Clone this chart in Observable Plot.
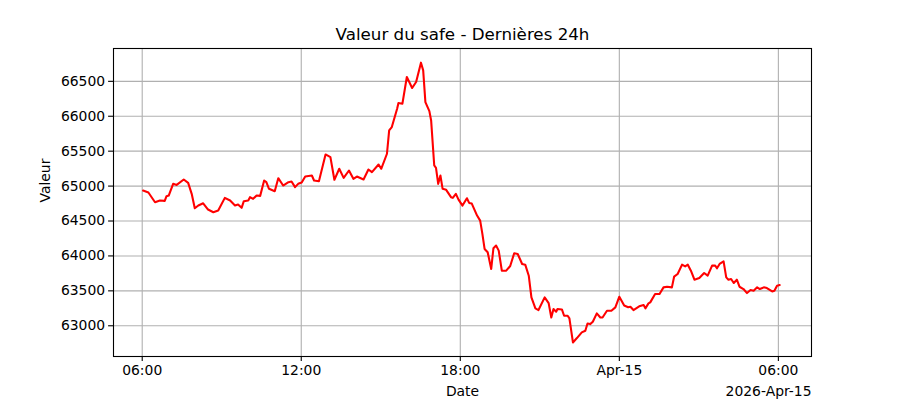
<!DOCTYPE html>
<html>
<head>
<meta charset="utf-8">
<script src="https://cdn.jsdelivr.net/npm/d3@7"></script>
<script src="https://cdn.jsdelivr.net/npm/@observablehq/plot@0.6"></script>
<style>
  html, body { margin: 0; padding: 0; background: white; }
  #chart { width: 900px; height: 400px; }
</style>
</head>
<body>
<div id="chart"></div>
<script>
const titleText = "Valeur du safe - Dernières 24h";
const xLabel = "Date";
const yLabel = "Valeur";
const offsetText = "2026-Apr-15";

const times = [
  "2026-04-14T06:02","2026-04-14T06:14","2026-04-14T06:29","2026-04-14T06:40","2026-04-14T06:51","2026-04-14T06:55",
  "2026-04-14T07:00","2026-04-14T07:10","2026-04-14T07:18","2026-04-14T07:34","2026-04-14T07:44","2026-04-14T07:52",
  "2026-04-14T07:59","2026-04-14T08:07","2026-04-14T08:18","2026-04-14T08:29","2026-04-14T08:41","2026-04-14T08:52",
  "2026-04-14T09:07","2026-04-14T09:19","2026-04-14T09:30","2026-04-14T09:37","2026-04-14T09:45","2026-04-14T09:50",
  "2026-04-14T10:00","2026-04-14T10:04","2026-04-14T10:11","2026-04-14T10:19","2026-04-14T10:27","2026-04-14T10:36",
  "2026-04-14T10:41","2026-04-14T10:47","2026-04-14T11:00","2026-04-14T11:08","2026-04-14T11:19","2026-04-14T11:31",
  "2026-04-14T11:38","2026-04-14T11:46","2026-04-14T11:53","2026-04-14T12:01","2026-04-14T12:09","2026-04-14T12:24",
  "2026-04-14T12:29","2026-04-14T12:40","2026-04-14T12:55","2026-04-14T13:06","2026-04-14T13:15","2026-04-14T13:26",
  "2026-04-14T13:36","2026-04-14T13:48","2026-04-14T13:58","2026-04-14T14:06","2026-04-14T14:21","2026-04-14T14:32",
  "2026-04-14T14:40","2026-04-14T14:55","2026-04-14T15:01","2026-04-14T15:14","2026-04-14T15:19","2026-04-14T15:25",
  "2026-04-14T15:37","2026-04-14T15:40","2026-04-14T15:49","2026-04-14T15:59","2026-04-14T16:11","2026-04-14T16:20",
  "2026-04-14T16:31","2026-04-14T16:36","2026-04-14T16:41","2026-04-14T16:50","2026-04-14T16:54","2026-04-14T17:01",
  "2026-04-14T17:05","2026-04-14T17:10","2026-04-14T17:15","2026-04-14T17:20","2026-04-14T17:28","2026-04-14T17:39",
  "2026-04-14T17:43","2026-04-14T17:50","2026-04-14T17:56","2026-04-14T18:05","2026-04-14T18:15","2026-04-14T18:20",
  "2026-04-14T18:26","2026-04-14T18:38","2026-04-14T18:45","2026-04-14T18:50","2026-04-14T18:55","2026-04-14T19:02",
  "2026-04-14T19:10","2026-04-14T19:15","2026-04-14T19:21","2026-04-14T19:27","2026-04-14T19:34","2026-04-14T19:44",
  "2026-04-14T19:53","2026-04-14T20:02","2026-04-14T20:10","2026-04-14T20:20","2026-04-14T20:27","2026-04-14T20:35",
  "2026-04-14T20:41","2026-04-14T20:50","2026-04-14T20:57","2026-04-14T21:11","2026-04-14T21:20","2026-04-14T21:26",
  "2026-04-14T21:31","2026-04-14T21:37","2026-04-14T21:40","2026-04-14T21:50","2026-04-14T21:55","2026-04-14T22:03",
  "2026-04-14T22:07","2026-04-14T22:15","2026-04-14T22:24","2026-04-14T22:35","2026-04-14T22:43","2026-04-14T22:48",
  "2026-04-14T22:54","2026-04-14T23:00","2026-04-14T23:09","2026-04-14T23:17","2026-04-14T23:22","2026-04-14T23:32",
  "2026-04-14T23:42","2026-04-14T23:51","2026-04-15T00:00","2026-04-15T00:11","2026-04-15T00:20","2026-04-15T00:25",
  "2026-04-15T00:32","2026-04-15T00:45","2026-04-15T00:55","2026-04-15T00:59","2026-04-15T01:06","2026-04-15T01:10",
  "2026-04-15T01:21","2026-04-15T01:31","2026-04-15T01:40","2026-04-15T01:48","2026-04-15T01:59","2026-04-15T02:04",
  "2026-04-15T02:12","2026-04-15T02:22","2026-04-15T02:29","2026-04-15T02:35","2026-04-15T02:42","2026-04-15T02:50",
  "2026-04-15T03:01","2026-04-15T03:12","2026-04-15T03:20","2026-04-15T03:30","2026-04-15T03:37","2026-04-15T03:41",
  "2026-04-15T03:47","2026-04-15T03:56","2026-04-15T04:02","2026-04-15T04:07","2026-04-15T04:13","2026-04-15T04:19",
  "2026-04-15T04:26","2026-04-15T04:32","2026-04-15T04:41","2026-04-15T04:49","2026-04-15T04:57","2026-04-15T05:04",
  "2026-04-15T05:12","2026-04-15T05:18","2026-04-15T05:27","2026-04-15T05:34","2026-04-15T05:46","2026-04-15T05:51",
  "2026-04-15T05:57","2026-04-15T06:03"
];

const values = [
  64936,64908,64768,64793,64788,64855,
  64865,65032,65017,65094,65046,64889,
  64683,64722,64754,64664,64626,64650,
  64831,64793,64722,64736,64689,64784,
  64793,64841,64817,64865,64860,65080,
  65056,64961,64927,65113,65008,65056,
  65066,64985,65032,65050,65137,65151,
  65080,65070,65453,65414,65090,65248,
  65118,65223,65104,65137,65094,65237,
  65199,65309,65248,65463,65797,65845,
  66108,66189,66180,66562,66404,66490,
  66767,66657,66203,66074,65940,65295,
  65262,65032,65151,64961,64946,64841,
  64831,64889,64807,64721,64826,64759,
  64750,64578,64506,64315,64100,64052,
  63814,64110,64148,64076,63789,63789,
  63856,64038,64028,63885,63875,63717,
  63406,63249,63225,63406,63325,63119,
  63239,63201,63239,63234,63143,63143,
  63105,62761,62824,62905,62928,63033,
  63024,63057,63177,63119,63119,63215,
  63215,63263,63416,63290,63265,63273,
  63225,63278,63297,63249,63320,63335,
  63454,63454,63550,63559,63550,63703,
  63741,63875,63851,63875,63789,63660,
  63684,63756,63717,63861,63861,63823,
  63885,63923,63693,63660,63670,63612,
  63660,63559,63526,63468,63512,63502,
  63550,63526,63550,63540,63492,63502,
  63574,63583
];

const xTickTimes = ["2026-04-14T06:00","2026-04-14T12:00","2026-04-14T18:00","2026-04-15T00:00","2026-04-15T06:00"];
const xTickLabels = ["06:00","12:00","18:00","Apr-15","06:00"];
const yTicks = [63000, 63500, 64000, 64500, 65000, 65500, 66000, 66500];
const xDomain = ["2026-04-14T04:55","2026-04-15T07:15"];
const yDomain = [62560, 66970];

const parse = s => new Date(s + ":00Z");
const data = times.map((t, i) => ({date: parse(t), value: values[i]}));
const xTicks = xTickTimes.map(parse);

const plot = Plot.plot({
  width: 900,
  height: 400,
  marginLeft: 113,
  marginRight: 89,
  marginTop: 48,
  marginBottom: 44,
  style: {fontFamily: "'DejaVu Sans', sans-serif", fontSize: "13.9px", color: "black", background: "white", overflow: "visible"},
  x: {type: "utc", domain: xDomain.map(parse)},
  y: {domain: yDomain},
  marks: [
    Plot.gridX(xTicks, {stroke: "#b0b0b0", strokeOpacity: 1, strokeWidth: 1.1}),
    Plot.gridY(yTicks, {stroke: "#b0b0b0", strokeOpacity: 1, strokeWidth: 1.1}),
    Plot.lineY(data, {x: "date", y: "value", stroke: "red", strokeWidth: 2.08, curve: "linear"}),
    Plot.frame({stroke: "black", strokeWidth: 1.1}),
    Plot.axisX(xTicks, {tickSize: 4.9, tickPadding: 3.5, tickFormat: (d, i) => xTickLabels[i], fontSize: 13.9, strokeWidth: 1.1, label: null}),
    Plot.axisY(yTicks, {tickSize: 4.9, tickPadding: 3.5, tickFormat: d => String(d), fontSize: 13.9, strokeWidth: 1.1, label: null}),
    Plot.text([titleText], {text: d => d, frameAnchor: "top", dy: -14, fontSize: 16.7, lineAnchor: "middle"}),
    Plot.text([xLabel], {text: d => d, frameAnchor: "bottom", dy: 35, fontSize: 13.9, lineAnchor: "middle"}),
    Plot.text([yLabel], {text: d => d, frameAnchor: "left", dx: -68, rotate: -90, fontSize: 13.9, lineAnchor: "middle"}),
    Plot.text([offsetText], {text: d => d, frameAnchor: "bottom-right", dy: 35, textAnchor: "end", fontSize: 13.9, lineAnchor: "middle"})
  ]
});
document.getElementById("chart").appendChild(plot);
</script>
</body>
</html>
